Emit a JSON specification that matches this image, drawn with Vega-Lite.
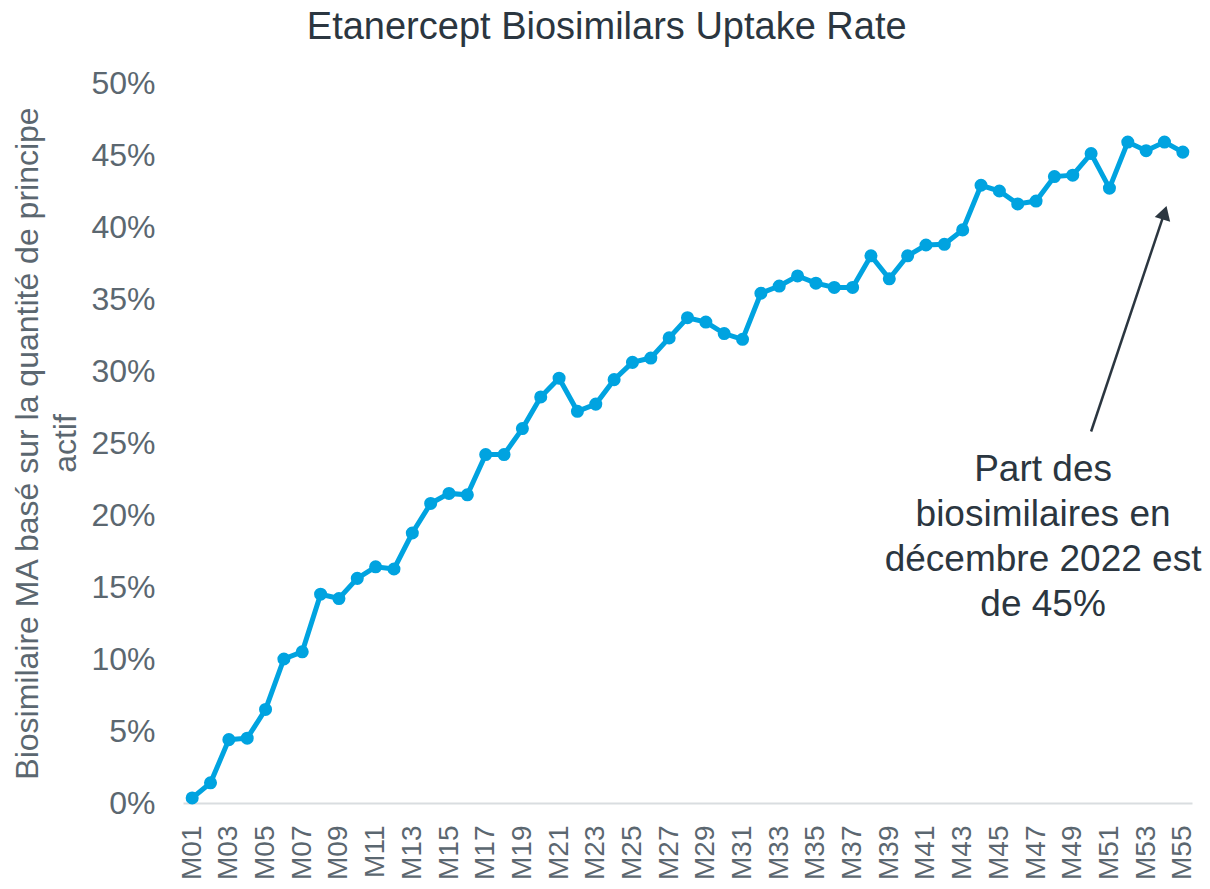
{
  "$schema": "https://vega.github.io/schema/vega-lite/v6.json",
  "autosize": {"type": "none"},
  "width": 1009,
  "height": 720,
  "padding": {"left": 183, "top": 83, "right": 18, "bottom": 86},
  "background": "white",
  "title": {
    "text": "Etanercept Biosimilars Uptake Rate",
    "anchor": "middle",
    "frame": "bounds",
    "fontSize": 38,
    "font": "Liberation Sans",
    "fontWeight": "normal",
    "color": "#2b3640",
    "offset": 20
  },
  "config": {
    "view": {"stroke": null},
    "font": "Liberation Sans"
  },
  "datasets": {
    "main": [
      {"m": "M01", "v": 0.0035}, {"m": "M02", "v": 0.014}, {"m": "M03", "v": 0.044}, {"m": "M04", "v": 0.045},
      {"m": "M05", "v": 0.065}, {"m": "M06", "v": 0.100}, {"m": "M07", "v": 0.105}, {"m": "M08", "v": 0.145},
      {"m": "M09", "v": 0.142}, {"m": "M10", "v": 0.156}, {"m": "M11", "v": 0.164}, {"m": "M12", "v": 0.1625},
      {"m": "M13", "v": 0.1875}, {"m": "M14", "v": 0.208}, {"m": "M15", "v": 0.215}, {"m": "M16", "v": 0.214},
      {"m": "M17", "v": 0.242}, {"m": "M18", "v": 0.242}, {"m": "M19", "v": 0.260}, {"m": "M20", "v": 0.282},
      {"m": "M21", "v": 0.295}, {"m": "M22", "v": 0.272}, {"m": "M23", "v": 0.277}, {"m": "M24", "v": 0.294},
      {"m": "M25", "v": 0.306}, {"m": "M26", "v": 0.309}, {"m": "M27", "v": 0.323}, {"m": "M28", "v": 0.337},
      {"m": "M29", "v": 0.334}, {"m": "M30", "v": 0.326}, {"m": "M31", "v": 0.322}, {"m": "M32", "v": 0.354},
      {"m": "M33", "v": 0.359}, {"m": "M34", "v": 0.366}, {"m": "M35", "v": 0.361}, {"m": "M36", "v": 0.358},
      {"m": "M37", "v": 0.358}, {"m": "M38", "v": 0.380}, {"m": "M39", "v": 0.364}, {"m": "M40", "v": 0.380},
      {"m": "M41", "v": 0.3875}, {"m": "M42", "v": 0.388}, {"m": "M43", "v": 0.398}, {"m": "M44", "v": 0.429},
      {"m": "M45", "v": 0.425}, {"m": "M46", "v": 0.416}, {"m": "M47", "v": 0.418}, {"m": "M48", "v": 0.435},
      {"m": "M49", "v": 0.436}, {"m": "M50", "v": 0.451}, {"m": "M51", "v": 0.427}, {"m": "M52", "v": 0.459},
      {"m": "M53", "v": 0.453}, {"m": "M54", "v": 0.459}, {"m": "M55", "v": 0.452}
    ],
    "arrow": [{"m": "M50", "v": 0.258, "m2": "M54", "v2": 0.410}],
    "head": [{"m": "M54", "v": 0.410}],
    "note": [{"m": "M47", "v": 0.231, "t": "Part des\nbiosimilaires en\ndécembre 2022 est\nde 45%"}]
  },
  "layer": [
    {
      "data": {"name": "main"},
      "mark": {"type": "line", "color": "#00a3e0", "strokeWidth": 5, "point": {"filled": true, "size": 170, "color": "#00a3e0", "opacity": 1}},
      "encoding": {
        "x": {
          "field": "m", "type": "ordinal",
          "scale": {"type": "point", "padding": 0.5, "domain": ["M01","M02","M03","M04","M05","M06","M07","M08","M09","M10","M11","M12","M13","M14","M15","M16","M17","M18","M19","M20","M21","M22","M23","M24","M25","M26","M27","M28","M29","M30","M31","M32","M33","M34","M35","M36","M37","M38","M39","M40","M41","M42","M43","M44","M45","M46","M47","M48","M49","M50","M51","M52","M53","M54","M55"]},
          "axis": {
            "title": null,
            "values": ["M01","M03","M05","M07","M09","M11","M13","M15","M17","M19","M21","M23","M25","M27","M29","M31","M33","M35","M37","M39","M41","M43","M45","M47","M49","M51","M53","M55"],
            "labelAngle": -90,
            "labelFontSize": 28,
            "labelColor": "#5b6770",
            "labelPadding": 22,
            "ticks": false,
            "domainColor": "#d9dde0",
            "domainWidth": 2,
            "grid": false
          }
        },
        "y": {
          "field": "v", "type": "quantitative",
          "scale": {"domain": [0, 0.5], "nice": false},
          "axis": {
            "title": ["Biosimilaire MA basé sur la quantité de principe", "actif"],
            "titleFontSize": 32,
            "titleFontWeight": "normal",
            "titleColor": "#5b6770",
            "titleLineHeight": 38,
            "titlePadding": 8,
            "format": ".0%",
            "values": [0, 0.05, 0.1, 0.15, 0.2, 0.25, 0.3, 0.35, 0.4, 0.45, 0.5],
            "labelFontSize": 32,
            "labelColor": "#5b6770",
            "labelPadding": 28,
            "ticks": false,
            "domain": false,
            "grid": false
          }
        }
      }
    },
    {
      "data": {"name": "arrow"},
      "mark": {"type": "rule", "color": "#2b3640", "strokeWidth": 2.5},
      "encoding": {
        "x": {"field": "m", "type": "ordinal"},
        "x2": {"field": "m2"},
        "y": {"field": "v", "type": "quantitative"},
        "y2": {"field": "v2"}
      }
    },
    {
      "data": {"name": "head"},
      "mark": {"type": "point", "shape": "triangle-up", "filled": true, "color": "#2b3640", "opacity": 1, "size": 260, "angle": 17},
      "encoding": {
        "x": {"field": "m", "type": "ordinal"},
        "y": {"field": "v", "type": "quantitative"}
      }
    },
    {
      "data": {"name": "note"},
      "mark": {"type": "text", "fontSize": 37, "color": "#2b3640", "align": "center", "baseline": "middle", "lineBreak": "\n", "lineHeight": 45, "dx": 7},
      "encoding": {
        "x": {"field": "m", "type": "ordinal"},
        "y": {"field": "v", "type": "quantitative"},
        "text": {"field": "t"}
      }
    }
  ]
}
